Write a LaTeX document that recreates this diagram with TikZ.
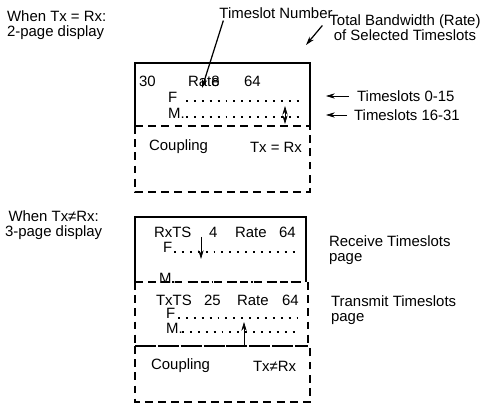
\documentclass[tikz,border=0pt]{standalone}
\usepackage{fontspec}
\setmainfont{Liberation Sans}
\usetikzlibrary{arrows.meta}

\begin{document}
\begin{tikzpicture}[x=0.02cm,y=-0.02cm,font=\fontsize{8.5}{8.6}\selectfont,>={Stealth[length=5pt,width=3pt]},
  lbl/.style={anchor=west,inner sep=1pt},
  boxline/.style={line width=0.8pt},
  dashline/.style={line width=0.8pt,dash pattern=on 4.5pt off 3pt},
  dotrow/.style={line width=1.1pt,dash pattern=on 1.1pt off 3.4pt}]
\useasboundingbox (0,0) rectangle (483,418);
% side labels
\node[lbl,align=left] (whenEq) at (5,25.5) {When Tx = Rx:\\2-page display};
\node[inner sep=1pt] (tsnum) at (276,13) {Timeslot Number};
\node[inner sep=1pt,align=center] (bw) at (405,27.5) {Total Bandwidth (Rate)\\of Selected Timeslots};
\node[lbl] (ts015) at (355,96) {Timeslots 0-15};\node[lbl] (ts1631) at (352,115) {Timeslots 16-31};
\node[lbl,align=center] (whenNe) at (3,225) {When Tx≠Rx:\\3-page display};
\node[lbl,align=left] (rxpage) at (327,250.5) {Receive Timeslots\\page};
\node[lbl,align=left] (txpage) at (329,310.5) {Transmit Timeslots\\page};
% 2-page display
\draw[boxline] (135,126) |- (310,63) -- (310,126);
\draw[dashline] (135,126) -- (310,126);
\draw[dashline] (135,126) |- (310,192) -- (310,126);
\node[lbl] (num1) at (137,81) {30};\node[lbl] (rate1) at (186,81) {Rat\rlap{e}8};\node[lbl] (val1) at (242,81) {64};
\node[lbl] (f1) at (166,97) {F};\node[lbl] (m1) at (166,113) {M.};
\draw[dotrow] (186,101) -- (299,101);
\draw[dotrow] (186,117) -- (299,117);
\coordinate (up1) at (285,106);\coordinate (dn1) at (285,124);
\draw[<->] (up1) -- (dn1);
\node[lbl] (cpl1) at (147,147) {Coupling};\node[lbl] (eq1) at (248,147) {Tx = Rx};
% pointers
\coordinate (tsnTip) at (202,88);\coordinate (bwTip) at (306,45);
\coordinate (ts015Tip) at (326,96);\coordinate (ts1631Tip) at (326,115);
\draw[->,line width=0.7pt] (tsnum.south west) ++(6,0) -- (tsnTip);
\draw[->,line width=0.7pt] (bw.west) ++(-5,-2) -- (bwTip);
\draw[->] (ts015.west) ++(-6,0) -- (ts015Tip);
\draw[->] (ts1631.west) ++(-5,0) -- (ts1631Tip);
% 3-page display
\draw[boxline] (135,282) |- (306,217) -- (306,282);
\draw[dashline] (135,282) -- (306,282);
\draw[dashline] (135,282) -- (135,346);
\draw[dashline] (308,282) -- (308,346);
\draw[boxline,dash pattern=on 12pt off 1pt] (135,346) -- (308,346);
\draw[dashline] (135,346) |- (310,402) -- (310,346);
\node[lbl] (rxts) at (152,232) {RxTS};\node[lbl] (num2) at (207,232) {4};\node[lbl] (rate2) at (233,232) {Rate};\node[lbl] (val2) at (277,232) {64};
\node[lbl] (f2) at (161,247) {F};\node[lbl] (m2) at (157,278) {M.};
\draw[dotrow] (174,252) -- (297,252);
\draw[dotrow] (172,282) -- (297,282);
\coordinate (rxA) at (201,237);\coordinate (rxB) at (201,259);
\draw[->] (rxA) -- (rxB);
\node[lbl] (txts) at (154,300) {TxTS};\node[lbl] (num3) at (202,300) {25};\node[lbl] (rate3) at (235,300) {Rate};\node[lbl] (val3) at (280,300) {64};
\node[lbl] (f3) at (164,313) {F};\node[lbl] (m3) at (164,328) {M.};
\draw[dotrow] (178,318) -- (297,318);
\draw[dotrow] (182,332) -- (297,332);
\coordinate (txA) at (244,346);\coordinate (txB) at (244,322);
\draw[->] (txA) -- (txB);
\node[lbl] (cpl2) at (149,366) {Coupling};\node[lbl] (ne2) at (251,366) {Tx≠Rx};
\end{tikzpicture}
\end{document}
